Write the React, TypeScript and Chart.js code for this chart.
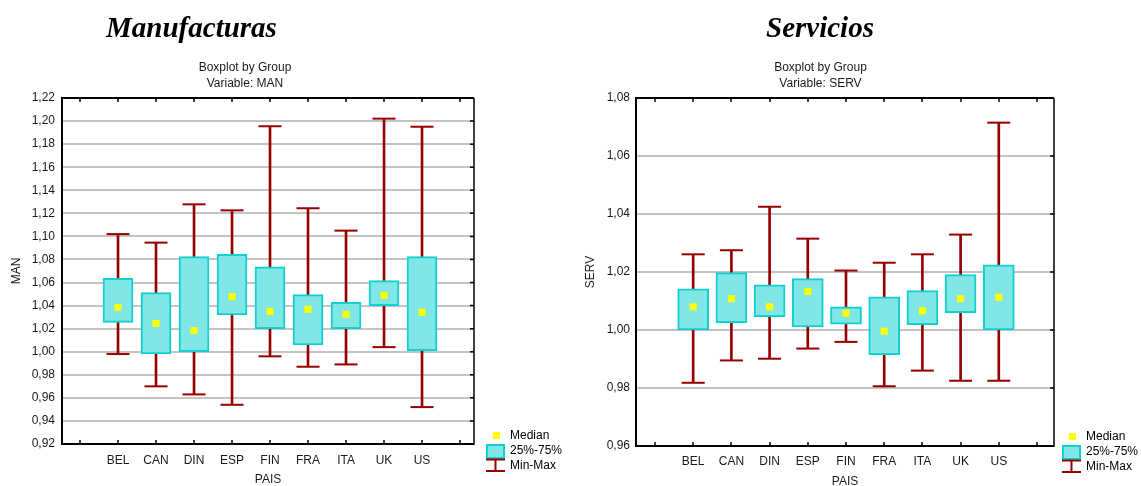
import React, { useEffect, useRef } from 'react';
import { Chart, registerables } from 'chart.js';

Chart.register(...registerables);

// ---------- data ----------
const categories = ['BEL', 'CAN', 'DIN', 'ESP', 'FIN', 'FRA', 'ITA', 'UK', 'US'];

const manMin = [0.998, 0.970, 0.963, 0.954, 0.996, 0.987, 0.989, 1.004, 0.952];
const manQ1 = [1.0255, 0.998, 1.0, 1.032, 1.020, 1.006, 1.020, 1.040, 1.001];
const manMedian = [1.0385, 1.0246, 1.0183, 1.0477, 1.035, 1.0368, 1.0324, 1.0489, 1.0342];
const manQ3 = [1.0637, 1.0512, 1.0824, 1.0845, 1.0737, 1.0495, 1.0428, 1.0616, 1.0824];
const manMax = [1.102, 1.0946, 1.1278, 1.1226, 1.1955, 1.1244, 1.105, 1.2021, 1.1951];

const servMin = [0.9818, 0.9895, 0.9901, 0.9936, 0.9959, 0.9806, 0.986, 0.9825, 0.9825];
const servQ1 = [1.0, 1.0025, 1.0046, 1.0011, 1.002, 0.9915, 1.0018, 1.006, 1.0];
const servMedian = [1.008, 1.0108, 1.008, 1.0133, 1.0058, 0.9996, 1.0066, 1.0108, 1.0113];
const servQ3 = [1.0142, 1.0198, 1.0156, 1.0177, 1.008, 1.0114, 1.0136, 1.0191, 1.0225];
const servMax = [1.0261, 1.0275, 1.0425, 1.0315, 1.0205, 1.0232, 1.0261, 1.0329, 1.0715];

const manTicks = [0.92, 0.94, 0.96, 0.98, 1.0, 1.02, 1.04, 1.06, 1.08, 1.1, 1.12, 1.14, 1.16, 1.18, 1.2, 1.22];
const servTicks = [0.96, 0.98, 1.0, 1.02, 1.04, 1.06, 1.08];

const legendLabels = ['Median', '25%-75%', 'Min-Max'];

// ---------- styles ----------
const RED = '#960000';
const CYAN = '#10D0D0';
const CYAN_FILL = '#80E6E6';
const YELLOW = '#FFFF00';
const SANS = '"Liberation Sans", Arial, sans-serif';

type Panel = {
  left: number;
  width: number;
  varName: string;
  title: string;
  titleCx: number;
  subCx: number;
  min: number[];
  q1: number[];
  med: number[];
  q3: number[];
  max: number[];
  ticks: number[];
  area: { left: number; right: number; top: number; bottom: number };
  xRange: [number, number];
  yLabelPad: number;
  xLabelPad: number;
  yTitlePad: number;
  xTitlePad: number;
  legend: { x: number; y: number };
  boxW: number;
};

const panels: Panel[] = [
  {
    left: 0, width: 570, varName: 'MAN', title: 'Manufacturas', titleCx: 191.5, subCx: 245,
    min: manMin, q1: manQ1, med: manMedian, q3: manQ3, max: manMax, ticks: manTicks,
    area: { left: 62, right: 474, top: 98, bottom: 444 },
    xRange: [-0.474, 10.368], yLabelPad: 7, xLabelPad: 9, yTitlePad: 9, xTitlePad: -1,
    legend: { x: 486, y: 432 }, boxW: 30,
  },
  {
    left: 570, width: 571, varName: 'SERV', title: 'Servicios', titleCx: 820, subCx: 820.5,
    min: servMin, q1: servQ1, med: servMedian, q3: servQ3, max: servMax, ticks: servTicks,
    area: { left: 66, right: 484, top: 98, bottom: 446 },
    xRange: [-0.497, 10.445], yLabelPad: 6, xLabelPad: 8, yTitlePad: 13, xTitlePad: -3,
    legend: { x: 1062, y: 433 }, boxW: 31,
  },
];

function makeOverlay(p: Panel) {
  return {
    id: 'frameLegend',
    afterDraw(chart: any) {
      const { ctx, chartArea: a, scales } = chart;
      const xs = scales.x;
      const ys = scales.y;
      ctx.save();
      ctx.strokeStyle = '#000';
      ctx.lineWidth = 1.5;
      ctx.beginPath();
      xs.ticks.forEach((t: any) => {
        const px = Math.round(xs.getPixelForValue(t.value));
        ctx.moveTo(px, a.top);
        ctx.lineTo(px, a.top + 4);
        ctx.moveTo(px, a.bottom);
        ctx.lineTo(px, a.bottom - 4);
      });
      ys.ticks.forEach((t: any) => {
        const py = ys.getPixelForValue(t.value);
        ctx.moveTo(a.right, py);
        ctx.lineTo(a.right - 4, py);
      });
      ctx.stroke();
      ctx.lineWidth = 2;
      ctx.beginPath();
      ctx.moveTo(a.left, a.bottom);
      ctx.lineTo(a.left, a.top);
      ctx.lineTo(a.right, a.top);
      ctx.moveTo(a.left - 1, a.bottom);
      ctx.lineTo(a.right, a.bottom);
      ctx.stroke();
      ctx.lineWidth = 1.5;
      ctx.beginPath();
      ctx.moveTo(a.right, a.top);
      ctx.lineTo(a.right, a.bottom + 1);
      ctx.stroke();

      // legend
      const L = p.legend.x - p.left;
      const T = p.legend.y;
      ctx.fillStyle = YELLOW;
      ctx.fillRect(L + 7, T, 7, 7);
      ctx.fillStyle = CYAN_FILL;
      ctx.fillRect(L + 1, T + 13, 17, 13);
      ctx.strokeStyle = CYAN;
      ctx.lineWidth = 2;
      ctx.strokeRect(L + 1, T + 13, 17, 13);
      ctx.strokeStyle = RED;
      ctx.beginPath();
      ctx.moveTo(L, T + 27.5);
      ctx.lineTo(L + 19, T + 27.5);
      ctx.moveTo(L + 9.5, T + 27.5);
      ctx.lineTo(L + 9.5, T + 39);
      ctx.moveTo(L, T + 39);
      ctx.lineTo(L + 19, T + 39);
      ctx.stroke();
      ctx.fillStyle = '#000';
      ctx.font = `12px ${SANS}`;
      ctx.textBaseline = 'middle';
      ctx.textAlign = 'left';
      ctx.fillText(legendLabels[0], L + 24, T + 4);
      ctx.fillText(legendLabels[1], L + 24, T + 19);
      ctx.fillText(legendLabels[2], L + 24, T + 33.5);
      ctx.restore();
    },
  };
}

function BoxPanel({ p }: { p: Panel }) {
  const ref = useRef<HTMLCanvasElement>(null);
  useEffect(() => {
    const xs = categories.map((_, i) => i + 1);
    const tickLabels = ['', ...categories, ''];
    const chart = new Chart(ref.current as HTMLCanvasElement, {
      type: 'bar',
      data: {
        datasets: [
          {
            type: 'bar',
            data: xs.map((x, i) => ({ x, y: [p.min[i], p.max[i]] })),
            backgroundColor: RED,
            borderWidth: 0,
            barThickness: 2,
            maxBarThickness: 2,
            grouped: false,
            order: 4,
          } as any,
          {
            type: 'bar',
            data: xs.map((x, i) => ({ x, y: [p.q1[i], p.q3[i]] })),
            backgroundColor: CYAN_FILL,
            borderColor: CYAN,
            borderWidth: 2,
            borderSkipped: false,
            barThickness: p.boxW,
            maxBarThickness: p.boxW,
            grouped: false,
            order: 3,
          } as any,
          {
            type: 'scatter',
            data: [
              ...xs.map((x, i) => ({ x, y: p.min[i] })),
              ...xs.map((x, i) => ({ x, y: p.max[i] })),
            ],
            pointStyle: 'line',
            pointRadius: 11.5,
            pointBorderColor: RED,
            pointBorderWidth: 2,
            order: 2,
          } as any,
          {
            type: 'scatter',
            data: xs.map((x, i) => ({ x, y: p.med[i] })),
            pointStyle: 'rect',
            pointRadius: 5,
            pointBackgroundColor: YELLOW,
            pointBorderWidth: 0,
            order: 1,
          } as any,
        ],
      },
      options: {
        responsive: false,
        animation: false,
        events: [],
        layout: {
          padding: { top: p.area.top, left: 0, right: p.width - p.area.right, bottom: 0 },
        },
        plugins: { legend: { display: false }, tooltip: { enabled: false }, title: { display: false } },
        scales: {
          x: {
            type: 'linear',
            offset: false,
            min: p.xRange[0],
            max: p.xRange[1],
            afterBuildTicks: (s: any) => {
              s.ticks = tickLabels.map((_, i) => ({ value: i }));
            },
            afterFit: (s: any) => {
              s.height = 486 - p.area.bottom;
            },
            ticks: {
              autoSkip: false,
              maxRotation: 0,
              padding: p.xLabelPad,
              color: '#1a1a1a',
              font: { family: SANS, size: 12 },
              callback: (v: any) => tickLabels[Math.round(Number(v))] ?? '',
            },
            grid: { display: false, offset: false, drawTicks: false },
            border: { display: false },
            title: {
              display: true,
              text: 'PAIS',
              color: '#1a1a1a',
              font: { family: SANS, size: 12 },
              padding: { top: 0, bottom: p.xTitlePad },
            },
          },
          y: {
            type: 'linear',
            min: p.ticks[0],
            max: p.ticks[p.ticks.length - 1],
            afterBuildTicks: (s: any) => {
              s.ticks = p.ticks.map((v) => ({ value: v }));
            },
            afterFit: (s: any) => {
              s.width = p.area.left;
            },
            ticks: {
              padding: p.yLabelPad,
              color: '#1a1a1a',
              font: { family: SANS, size: 12 },
              callback: (v: any) => Number(v).toFixed(2).replace('.', ','),
            },
            grid: { color: '#C4C4C4', lineWidth: 2, drawTicks: false },
            border: { display: false },
            title: {
              display: true,
              text: p.varName,
              color: '#1a1a1a',
              font: { family: SANS, size: 12 },
              padding: { top: p.yTitlePad, bottom: 0 },
            },
          },
        },
      } as any,
      plugins: [makeOverlay(p)],
    });
    return () => chart.destroy();
  }, []);
  return (
    <canvas
      ref={ref}
      width={p.width}
      height={486}
      style={{ position: 'absolute', left: p.left, top: 0, width: p.width, height: 486 }}
    />
  );
}

export default function App() {
  return (
    <div style={{ position: 'absolute', left: 0, top: 0, width: 1141, height: 486, background: '#fff', overflow: 'hidden' }}>
      {panels.map((p) => (
        <BoxPanel key={p.varName} p={p} />
      ))}
      {panels.map((p) => (
        <div
          key={'t' + p.varName}
          style={{
            position: 'absolute', left: p.titleCx - 150, width: 300, top: 13, textAlign: 'center',
            font: 'italic bold 29px "Liberation Serif", "Times New Roman", serif', lineHeight: '29px', color: '#000',
          }}
        >
          {p.title}
        </div>
      ))}
      {panels.map((p) => (
        <div
          key={'s' + p.varName}
          style={{
            position: 'absolute', left: p.subCx - 100, width: 200, top: 59, textAlign: 'center',
            fontFamily: SANS, fontSize: 12, lineHeight: '16px', color: '#1a1a1a',
          }}
        >
          <div>Boxplot by Group</div>
          <div>{'Variable: ' + p.varName}</div>
        </div>
      ))}
    </div>
  );
}
